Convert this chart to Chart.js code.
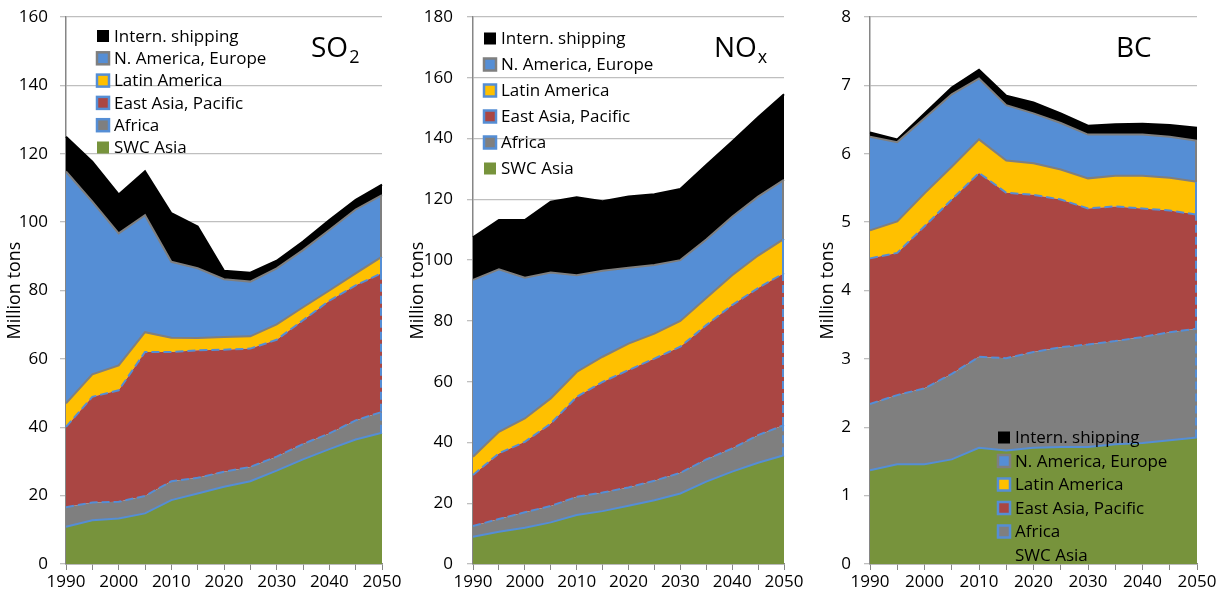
<!DOCTYPE html>
<html>
<head>
<meta charset="utf-8">
<script src="https://cdn.jsdelivr.net/npm/chart.js@4"></script>
<style>
  body { margin: 0; background: #fff; }
  .box { position: absolute; top: 0; height: 606px; }
</style>
</head>
<body>
<div class="box" style="left:0;width:420px"><canvas id="so2"></canvas></div>
<div class="box" style="left:400px;width:410px"><canvas id="nox"></canvas></div>
<div class="box" style="left:810px;width:406px"><canvas id="bc"></canvas></div>
<script>
const years = ['1990', '1995', '2000', '2005', '2010', '2015', '2020', '2025', '2030', '2035', '2040', '2045', '2050'];
const seriesNames = ['SWC Asia', 'Africa', 'East Asia, Pacific', 'Latin America', 'N. America, Europe', 'Intern. shipping'];

// SO2, million tons
const so2Swc = [10.9, 12.8, 13.3, 14.8, 18.7, 20.6, 22.6, 24.2, 27.3, 30.6, 33.6, 36.4, 38.4];
const so2Africa = [5.7, 5.2, 4.9, 5.1, 5.5, 4.6, 4.4, 4.2, 4.1, 4.5, 4.6, 5.6, 6.1];
const so2EastAsia = [23.5, 30.9, 32.6, 42.1, 37.8, 37.3, 35.7, 34.6, 34.2, 36.2, 38.8, 39.5, 40.6];
const so2Latin = [6.9, 6.6, 7.3, 5.8, 4.2, 3.6, 3.7, 3.6, 4.5, 3.8, 3.0, 3.5, 4.8];
const so2NaEu = [67.8, 50.5, 38.6, 34.2, 22.2, 20.4, 16.9, 16.0, 16.4, 16.7, 17.7, 18.7, 18.0];
const so2Ship = [10.2, 11.7, 11.4, 12.9, 14.2, 12.2, 2.5, 2.6, 2.2, 2.5, 2.9, 2.8, 3.1];

// NOx, million tons
const noxSwc = [9.0, 10.6, 11.9, 13.7, 16.1, 17.4, 19.2, 21.0, 23.2, 27.1, 30.4, 33.3, 35.8];
const noxAfrica = [3.5, 4.2, 5.1, 5.4, 6.0, 6.1, 6.0, 6.4, 6.8, 7.3, 7.6, 9.1, 9.9];
const noxEastAsia = [16.8, 21.6, 23.2, 27.1, 32.9, 36.4, 38.6, 40.2, 41.5, 44.2, 47.2, 48.4, 50.0];
const noxLatin = [6.0, 7.1, 7.7, 8.3, 8.2, 8.3, 8.7, 8.2, 8.5, 8.9, 9.8, 10.7, 11.3];
const noxNaEu = [58.2, 53.5, 46.3, 41.4, 31.8, 28.3, 25.0, 22.6, 20.0, 19.3, 19.3, 19.4, 19.4];
const noxShip = [14.0, 16.2, 19.0, 23.3, 25.7, 22.9, 23.4, 23.3, 23.4, 24.5, 24.7, 26.1, 28.2];

// BC, million tons
const bcSwc = [1.37, 1.46, 1.46, 1.53, 1.70, 1.66, 1.70, 1.71, 1.71, 1.75, 1.77, 1.81, 1.85];
const bcAfrica = [0.97, 1.01, 1.11, 1.25, 1.33, 1.35, 1.40, 1.46, 1.50, 1.51, 1.55, 1.58, 1.59];
const bcEastAsia = [2.13, 2.08, 2.37, 2.55, 2.69, 2.42, 2.30, 2.16, 1.99, 1.97, 1.88, 1.78, 1.67];
const bcLatin = [0.41, 0.46, 0.48, 0.48, 0.49, 0.47, 0.46, 0.44, 0.44, 0.45, 0.48, 0.48, 0.48];
const bcNaEu = [1.37, 1.16, 1.10, 1.06, 0.89, 0.81, 0.73, 0.68, 0.64, 0.60, 0.60, 0.60, 0.60];
const bcShip = [0.06, 0.04, 0.07, 0.10, 0.13, 0.14, 0.16, 0.14, 0.13, 0.15, 0.16, 0.17, 0.19];

const FONT = '"Open Sans", sans-serif';
const BLUE = '#558ED5';
const GREY = '#7F7F7F';

// fill, line on top edge, right-hand edge line, and legend marker border
const looks = [
  { fill: '#77933C', line: BLUE, dash: [], edge: null, mark: null },
  { fill: '#7F7F7F', line: BLUE, dash: [8, 4], edge: BLUE, mark: BLUE },
  { fill: '#AA4643', line: BLUE, dash: [8, 4], edge: BLUE, mark: BLUE },
  { fill: '#FFC000', line: GREY, dash: [], edge: BLUE, mark: BLUE },
  { fill: '#558ED5', line: GREY, dash: [], edge: GREY, mark: GREY },
  { fill: '#000000', line: '#000000', dash: [], edge: null, mark: null }
];

function makeSets(lists) {
  return lists.map((vals, i) => ({
    label: seriesNames[i],
    data: vals,
    backgroundColor: looks[i].fill,
    borderColor: looks[i].line,
    borderDash: looks[i].dash,
    borderWidth: 2,
    pointRadius: 0,
    tension: 0,
    fill: i === 0 ? 'origin' : '-1',
    markBorder: looks[i].mark,
    edgeColor: looks[i].edge
  }));
}

// closing line on the 2050 edge of each band, as the spreadsheet draws it
const edgeLines = {
  id: 'edgeLines',
  afterDatasetsDraw(chart) {
    const ctx = chart.ctx;
    const base = chart.scales.y.getPixelForValue(0);
    ctx.save();
    chart.data.datasets.forEach((ds, i) => {
      if (!ds.edgeColor) return;
      const pts = chart.getDatasetMeta(i).data;
      const p = pts[pts.length - 1];
      const below = i === 0 ? base : chart.getDatasetMeta(i - 1).data[pts.length - 1].y;
      ctx.strokeStyle = ds.edgeColor;
      ctx.lineWidth = 2;
      ctx.setLineDash(ds.borderDash);
      ctx.beginPath();
      ctx.moveTo(p.x - 1, below);
      ctx.lineTo(p.x - 1, p.y);
      ctx.stroke();
    });
    ctx.restore();
  }
};

// legend + gas name drawn inside the plot area
const boxLegend = {
  id: 'boxLegend',
  afterDraw(chart, args, opts) {
    const ctx = chart.ctx;
    ctx.save();
    ctx.font = '17px ' + FONT;
    ctx.textBaseline = 'middle';
    ctx.textAlign = 'left';
    const sets = chart.data.datasets.slice().reverse();
    sets.forEach((ds, i) => {
      const y = opts.y + i * opts.gap;
      const bx = opts.x, by = y - 6;
      ctx.fillStyle = ds.backgroundColor;
      ctx.fillRect(bx, by, 12, 12);
      if (ds.markBorder) {
        ctx.strokeStyle = ds.markBorder;
        ctx.lineWidth = 2.5;
        ctx.strokeRect(bx, by, 12, 12);
      }
      ctx.fillStyle = '#000';
      ctx.fillText(ds.label, bx + 17, y + 1);
    });
    const t = opts.title;
    ctx.font = '28px ' + FONT;
    ctx.textBaseline = 'alphabetic';
    ctx.fillText(t.text, t.x, t.y);
    if (t.sub) {
      const w = ctx.measureText(t.text).width;
      ctx.font = '18px ' + FONT;
      ctx.fillText(t.sub, t.x + w + 1, t.y + 6);
    }
    ctx.restore();
  }
};

function makeChart(id, lists, opt) {
  return new Chart(document.getElementById(id), {
    type: 'line',
    data: { labels: years, datasets: makeSets(lists) },
    plugins: [edgeLines, boxLegend],
    options: {
      responsive: true,
      maintainAspectRatio: false,
      animation: false,
      layout: { padding: { top: 17, right: opt.right, left: 0, bottom: 0 } },
      plugins: {
        legend: { display: false },
        tooltip: { enabled: false },
        boxLegend: opt.legend
      },
      scales: {
        x: {
          grid: { drawOnChartArea: false, tickLength: 6, color: '#868686' },
          border: { color: '#868686', width: 1.5 },
          ticks: {
            autoSkip: false, maxRotation: 0, color: '#000', padding: 2,
            font: { family: FONT, size: 17 },
            callback: function (v, i) { const y = this.getLabelForValue(v); return (+y) % 10 === 0 ? y : ''; }
          },
          afterFit(s) { s.height = 42; s.paddingLeft = 0; s.paddingRight = 0; }
        },
        y: {
          stacked: true,
          min: 0, max: opt.max,
          grid: { color: '#BFBFBF', tickLength: 6, lineWidth: 1.3 },
          border: { color: '#868686', width: 1.5 },
          ticks: { stepSize: opt.step, color: '#000', padding: opt.tickPad, font: { family: FONT, size: 17 } },
          title: { display: true, text: 'Million tons', color: '#000', padding: { top: opt.titlePad, bottom: 0 }, font: { family: FONT, size: 18 } },
          afterFit(s) { s.width = opt.axisW; s.paddingTop = 0; }
        }
      }
    }
  });
}

makeChart('so2', [so2Swc, so2Africa, so2EastAsia, so2Latin, so2NaEu, so2Ship], {
  max: 160, step: 20, axisW: 66, right: 38, tickPad: 12, titlePad: 4,
  legend: { x: 97, y: 36, gap: 22.3, title: { text: 'SO', sub: '2', x: 311, y: 57 } }
});
makeChart('nox', [noxSwc, noxAfrica, noxEastAsia, noxLatin, noxNaEu, noxShip], {
  max: 180, step: 20, axisW: 73, right: 26, tickPad: 14, titlePad: 7,
  legend: { x: 84, y: 38.5, gap: 26, title: { text: 'NO', sub: 'x', x: 314, y: 57 } }
});
makeChart('bc', [bcSwc, bcAfrica, bcEastAsia, bcLatin, bcNaEu, bcShip], {
  max: 8, step: 1, axisW: 60, right: 19, tickPad: 13, titlePad: 7,
  legend: { x: 188, y: 437.5, gap: 23.5, title: { text: 'BC', sub: '', x: 306, y: 57 } }
});
</script>
</body>
</html>
